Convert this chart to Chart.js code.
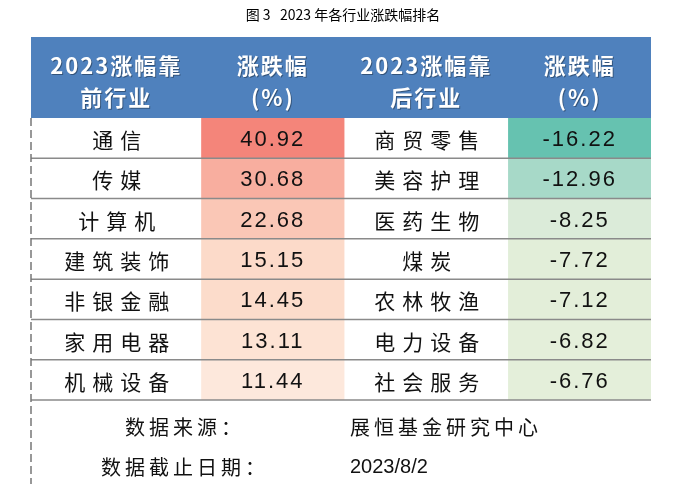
<!DOCTYPE html>
<html><head><meta charset="utf-8">
<script src="https://cdn.jsdelivr.net/npm/chart.js@4"></script>
<style>html,body{margin:0;padding:0;background:#fff}#c{display:block}</style>
</head><body>
<div style="width:686px;height:486px"><canvas id="c"></canvas></div>
<script>
const title = "图 3   2023 年各行业涨跌幅排名";
const headers = [["2023涨幅靠","前行业"],["涨跌幅","(%)"],["2023涨幅靠","后行业"],["涨跌幅","(%)"]];
const topNames = ["通信","传媒","计算机","建筑装饰","非银金融","家用电器","机械设备"];
const topValues = [40.92,30.68,22.68,15.15,14.45,13.11,11.44];
const topColors = ["#F4857A","#F8AE9F","#FAC7B6","#FCDAC9","#FCDCCB","#FDE3D4","#FDE8DC"];
const bottomNames = ["商贸零售","美容护理","医药生物","煤炭","农林牧渔","电力设备","社会服务"];
const bottomValues = [-16.22,-12.96,-8.25,-7.72,-7.12,-6.82,-6.76];
const bottomColors = ["#66C2B0","#A7D9C8","#DBEBD9","#E2EED9","#E3EED9","#E4EFDA","#E4EFDA"];
const footer = [["数据来源：","展恒基金研究中心"],["数据截止日期：","2023/8/2"]];
const colEdges = [0, 1.1, 2.02, 3.08, 4];

const tablePlugin = {
  id:'table',
  afterDatasetsDraw(chart){
    const ctx = chart.ctx, xs = chart.scales.x, ys = chart.scales.y;
    const X = v=>xs.getPixelForValue(v);
    const left = X(0), right = X(4);
    const top = chart.chartArea.top, bottom = chart.chartArea.bottom;
    const rowH = (bottom-top)/topNames.length;
    ctx.save();
    // title
    ctx.fillStyle='#000'; ctx.font='14px "Noto Sans CJK SC"'; ctx.textAlign='center'; ctx.textBaseline='middle';
    ctx.fillText(title, 343, 15);
    // header
    const hTop = 37;
    ctx.fillStyle='#4F81BD'; ctx.fillRect(left, hTop, right-left, top-hTop);
    ctx.font='bold 22px "Noto Sans CJK SC"'; ctx.fillStyle='#fff'; ctx.letterSpacing='2px';
    ctx.shadowColor='rgba(0,0,0,0.35)'; ctx.shadowOffsetX=1; ctx.shadowOffsetY=1;
    headers.forEach((h,i)=>{
      const cx=(X(colEdges[i])+X(colEdges[i+1]))/2;
      ctx.fillText(h[0], cx, hTop+29); ctx.fillText(h[1], cx, hTop+61);
    });
    ctx.shadowColor='transparent';
    // body text
    ctx.fillStyle='#111';
    for(let r=0;r<topNames.length;r++){
      const cy = ys.getPixelForValue(r)+2;
      ctx.font='21px "Noto Sans CJK SC"'; ctx.letterSpacing='7px';
      ctx.fillText(topNames[r], (X(colEdges[0])+X(colEdges[1]))/2+4, cy);
      ctx.fillText(bottomNames[r], (X(colEdges[2])+X(colEdges[3]))/2+4, cy);
      ctx.font='22px "Liberation Sans Narrow","Liberation Sans"'; ctx.letterSpacing='2px';
      ctx.fillText(topValues[r].toFixed(2), (X(colEdges[1])+X(colEdges[2]))/2, cy);
      ctx.fillText(bottomValues[r].toFixed(2), (X(colEdges[3])+X(colEdges[4]))/2, cy);
    }
    // row lines
    ctx.strokeStyle='#8a8a8a'; ctx.lineWidth=1.5;
    for(let r=1;r<=topNames.length;r++){
      const y=top+r*rowH; ctx.beginPath(); ctx.moveTo(left,y); ctx.lineTo(right,y); ctx.stroke();
    }
    // dashed left border
    ctx.setLineDash([8,4]); ctx.strokeStyle='#777'; ctx.lineWidth=1.5;
    ctx.beginPath(); ctx.moveTo(left, top); ctx.lineTo(left, 484); ctx.stroke();
    ctx.setLineDash([]);
    // footer
    ctx.fillStyle='#111'; ctx.font='20px "Noto Sans CJK SC"'; ctx.letterSpacing='4px';
    ctx.textAlign='center';
    ctx.fillText(footer[0][0], 185, bottom+27);
    ctx.fillText(footer[1][0], 185, bottom+67);
    ctx.textAlign='left';
    ctx.fillText(footer[0][1], 350, bottom+27);
    ctx.letterSpacing='0px'; ctx.font='20px "Liberation Sans Narrow","Liberation Sans"';
    ctx.fillText(footer[1][1], 350, bottom+67);
    ctx.restore();
  }
};

new Chart(document.getElementById('c'), {
  type:'bar',
  data:{
    labels: topNames,
    datasets:[
      {data: topValues.map(()=>[colEdges[1], colEdges[2]]), backgroundColor: topColors, barPercentage:1, categoryPercentage:1, grouped:false},
      {data: bottomValues.map(()=>[colEdges[3], colEdges[4]]), backgroundColor: bottomColors, barPercentage:1, categoryPercentage:1, grouped:false}
    ]
  },
  options:{
    indexAxis:'y', responsive:true, maintainAspectRatio:false, animation:false,
    layout:{padding:{left:31,right:35,top:118,bottom:86}},
    plugins:{legend:{display:false}, tooltip:{enabled:false}},
    scales:{
      x:{type:'linear', min:0, max:4, display:false},
      y:{display:false}
    }
  },
  plugins:[tablePlugin]
});
</script>
</body></html>
